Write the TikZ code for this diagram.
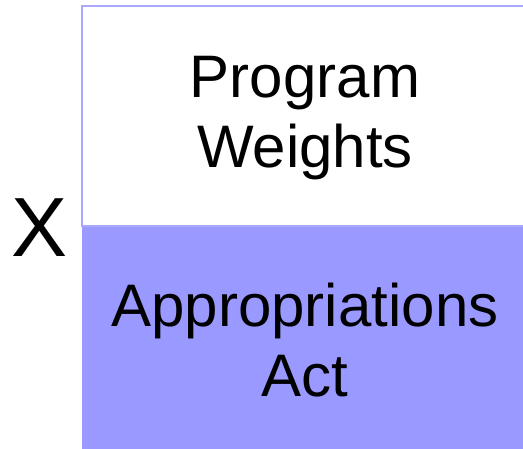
\documentclass[tikz,border=0pt]{standalone}
\usepackage{fontspec}
\setmainfont{Liberation Sans}
\usetikzlibrary{positioning}

\definecolor{boxline}{HTML}{A8A8FF}
\definecolor{boxfill}{HTML}{9999FF}

\begin{document}
\begin{tikzpicture}[x = 1pt, y = 1pt,
  part/.style = {rectangle, minimum width = 446pt, align = center, inner sep = 0pt,
    font = \fontsize{60}{70}\selectfont}]
\useasboundingbox (0, 0) rectangle (523, 449);
\clip (0, 0) rectangle (523, 449);

\node[part, fill = boxfill, minimum height = 229pt] (act) at (305, 109) {Appropriations\\Act};
\node[part, draw = boxline, line width = 2pt, minimum height = 220pt, text depth = 8pt] (weights) at (305, 333) {Program\\Weights};

\node[font = \fontsize{84}{84}\selectfont, inner sep = 0pt] (times) at (40, 221) {X};

\end{tikzpicture}
\end{document}
